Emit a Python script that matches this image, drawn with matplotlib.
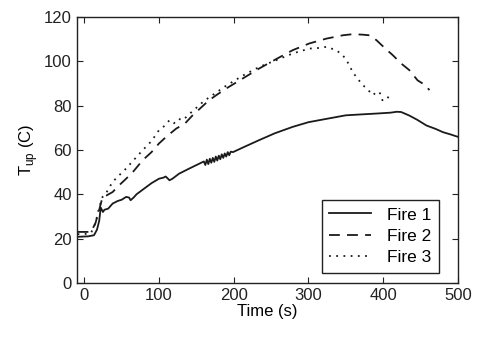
import matplotlib
matplotlib.use("Agg")
from matplotlib import pyplot as plt

plt.rcParams['font.family'] = ['Liberation Sans', 'DejaVu Sans']
plt.rcParams['mathtext.fontset'] = 'custom'
plt.rcParams['mathtext.rm'] = 'Liberation Sans'

# Fire 1 (solid)
t1 = [-9, 5, 13, 17, 20, 22, 25, 27, 32, 38, 45, 50, 56, 60, 62, 66, 70, 74, 80, 90, 100, 106, 109, 112, 114,
      118, 127, 140, 154, 160, 162, 164, 166, 168, 170, 172, 174, 176, 178, 180, 182, 184, 186, 188, 190,
      192, 194, 196, 199,
      215, 234, 255, 279, 300, 324, 350, 370, 391, 410, 418, 424, 435, 446, 458, 470, 480, 490, 500]
y1 = [20.8, 21.0, 21.5, 24, 28, 34, 32, 33, 33.5, 35.8, 37, 37.5, 38.8, 38.5, 37.3, 38.5, 40, 41, 42.5, 45, 47, 47.5, 48, 47, 46.3,
      47, 49.3, 51.5, 53.8, 54.8, 53.2, 55.6, 53.6, 56, 54.2, 56.4, 54.6, 57, 55.2, 57.4, 55.8, 58, 56.4, 58.4, 57,
      59, 57.6, 59.2, 59,
      61.5, 64.4, 67.5, 70.4, 72.5, 74, 75.6, 76, 76.4, 76.8, 77.2, 77.1, 75.5, 73.5, 71, 69.5, 68, 67, 65.9]

# Fire 2 (dashed)
t2 = [-9, 0, 9, 15, 20, 24.5, 30, 38, 45, 56, 65, 78, 90, 100, 110, 123, 135, 145, 156, 167, 178, 190,
      212, 234, 257, 279, 301, 324, 346, 359, 372, 382, 391, 402, 413, 424, 435, 446, 455, 462]
y2 = [23, 23, 23, 27, 33, 38.8, 39.5, 41, 43.5, 47, 50, 55.3, 59, 62.9, 66, 69.6, 72, 75.6, 79, 82.4, 85, 87.7,
      92.2, 96.7, 101, 105, 108, 110.2, 111.7, 112.2, 112.0, 111.7, 109.5, 106, 102.7, 99, 96, 91.4, 89.5, 87]

# Fire 3 (dotted)
t3 = [-9, 0, 9, 15, 20, 24.5, 30, 38, 45, 56, 65, 78, 90, 100, 108, 114, 120, 126, 132, 140, 150, 160, 175, 190,
      212, 234, 257, 279, 301, 315, 324, 337, 345, 350, 355, 359, 366, 373, 380, 386, 391, 395, 399, 405, 413]
y3 = [22, 22, 22.5, 27, 34, 38.8, 41, 45.6, 48, 51.6, 55, 59.8, 64, 68.9, 71, 73.4, 72, 74, 73.4, 76, 79, 82, 85.5, 89,
      93.5, 97.4, 100.5, 103.5, 105.7, 106, 106.5, 105, 103, 101, 98, 95.2, 92, 89.2, 87, 84.7, 86, 86.2, 82.4, 84, 82.4]

fig = plt.figure(figsize=(4.83, 3.38), dpi=100)
ax = fig.add_axes([0.159, 0.163, 0.789, 0.787])

ax.plot(t1, y1, color='#1a1a1a', lw=1.3, ls='-', label='Fire 1')
ax.plot(t2, y2, color='#1a1a1a', lw=1.3, ls=(0, (6, 4)), label='Fire 2')
ax.plot(t3, y3, color='#1a1a1a', lw=1.3, ls=(0, (1, 3)), label='Fire 3')

ax.set_xlim(-10, 500)
ax.set_ylim(0, 120)
ax.set_xticks([0, 100, 200, 300, 400, 500])
ax.set_yticks([0, 20, 40, 60, 80, 100, 120])
ax.tick_params(direction='in', top=True, right=True, labelsize=12, length=4, colors='#222222')
for s in ax.spines.values():
    s.set_color('#222222')
    s.set_linewidth(1.0)

ax.set_xlabel('Time (s)', fontsize=12, labelpad=1)
ax.set_ylabel(r'T$_{\rm up}$ (C)', fontsize=12, labelpad=3)

leg = ax.legend(loc='lower right', fontsize=12.5, fancybox=False, framealpha=1,
                edgecolor='#222222', handlelength=2.4, handletextpad=0.9,
                borderpad=0.45, labelspacing=0.35, borderaxespad=0,
                bbox_to_anchor=(0.95, 0.038))
leg.get_frame().set_linewidth(1.0)

fig.savefig('out.png', dpi=100)
